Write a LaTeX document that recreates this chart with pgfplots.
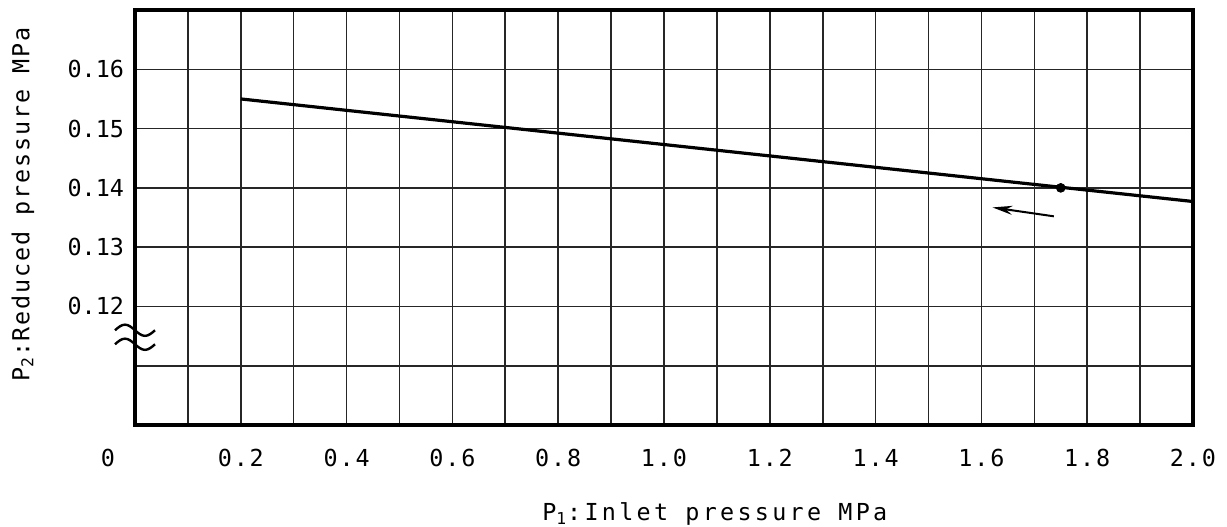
\documentclass[border=0pt]{standalone}
\usepackage{pgfplots}
\pgfplotsset{compat=1.18}
\usepackage{fontspec}
\usetikzlibrary{arrows.meta}
\newfontfamily\cad{DejaVu Sans Mono}
\newfontfamily\cadmid{DejaVu Sans Mono}[LetterSpace=8]
\newfontfamily\cadwide{DejaVu Sans Mono}[LetterSpace=14]
\newcommand\cadsize{\fontsize{11.7}{14}\selectfont}

\begin{document}
\begin{tikzpicture}
\path[use as bounding box] (-67.5pt,-50.5pt) rectangle (546pt,212.5pt);
\begin{axis}[
    at={(0,0)}, anchor=south west,
    scale only axis, width=529pt, height=207.5pt,
    xmin=0, xmax=2, ymin=0.10, ymax=0.17,
    xtick={0.2,0.4,0.6,0.8,1.0,1.2,1.4,1.6,1.8,2.0},
    xticklabels={0.2,0.4,0.6,0.8,1.0,1.2,1.4,1.6,1.8,2.0},
    minor xtick={0.1,0.3,0.5,0.7,0.9,1.1,1.3,1.5,1.7,1.9},
    ytick={0.11,0.12,0.13,0.14,0.15,0.16},
    yticklabels={,0.12,0.13,0.14,0.15,0.16},
    major tick length=0pt, minor tick length=0pt,
    grid=both,
    major grid style={black!85, line width=0.8pt},
    minor grid style={black!85, line width=0.8pt},
    axis line style={line width=1.6pt},
    xticklabel style={font=\cadmid\cadsize, anchor=center, yshift=-16.5pt},
    yticklabel style={font=\cad\cadsize, xshift=-2pt},
    clip=false,
]
% characteristic line
\addplot[black, line width=1.6pt] coordinates {(0.2,0.1550) (2.0,0.1377)};
% set point
\addplot[black, only marks, mark=*, mark size=2.2pt] coordinates {(1.75,0.1400)};
% direction arrow
\addplot[black, line width=1pt, -{Stealth[length=10pt,width=4.5pt]}] coordinates {(1.737,0.1352) (1.621,0.1367)};

\node[font=\cad\cadsize] at ([xshift=-13.5pt, yshift=-16.5pt]rel axis cs:0,0) {0};
% axis break sign
\draw[line width=1.2pt] ([xshift=-10pt,yshift=3.5pt]axis cs:0,0.1148)
    sin ++(5pt,2.8pt) cos ++(5pt,-2.8pt) sin ++(5pt,-2.8pt) cos ++(5pt,2.8pt);
\draw[line width=1.2pt] ([xshift=-10pt,yshift=-3.5pt]axis cs:0,0.1148)
    sin ++(5pt,2.8pt) cos ++(5pt,-2.8pt) sin ++(5pt,-2.8pt) cos ++(5pt,2.8pt);
\node[font=\cadmid\cadsize, rotate=90] at ([xshift=-56pt]rel axis cs:0,0.531) {P\textsubscript{2}:Reduced pressure MPa};
\node[font=\cadwide\cadsize] at ([yshift=-44.5pt]rel axis cs:0.548,0) {P\textsubscript{1}:Inlet pressure MPa};
\end{axis}
\end{tikzpicture}
\end{document}
